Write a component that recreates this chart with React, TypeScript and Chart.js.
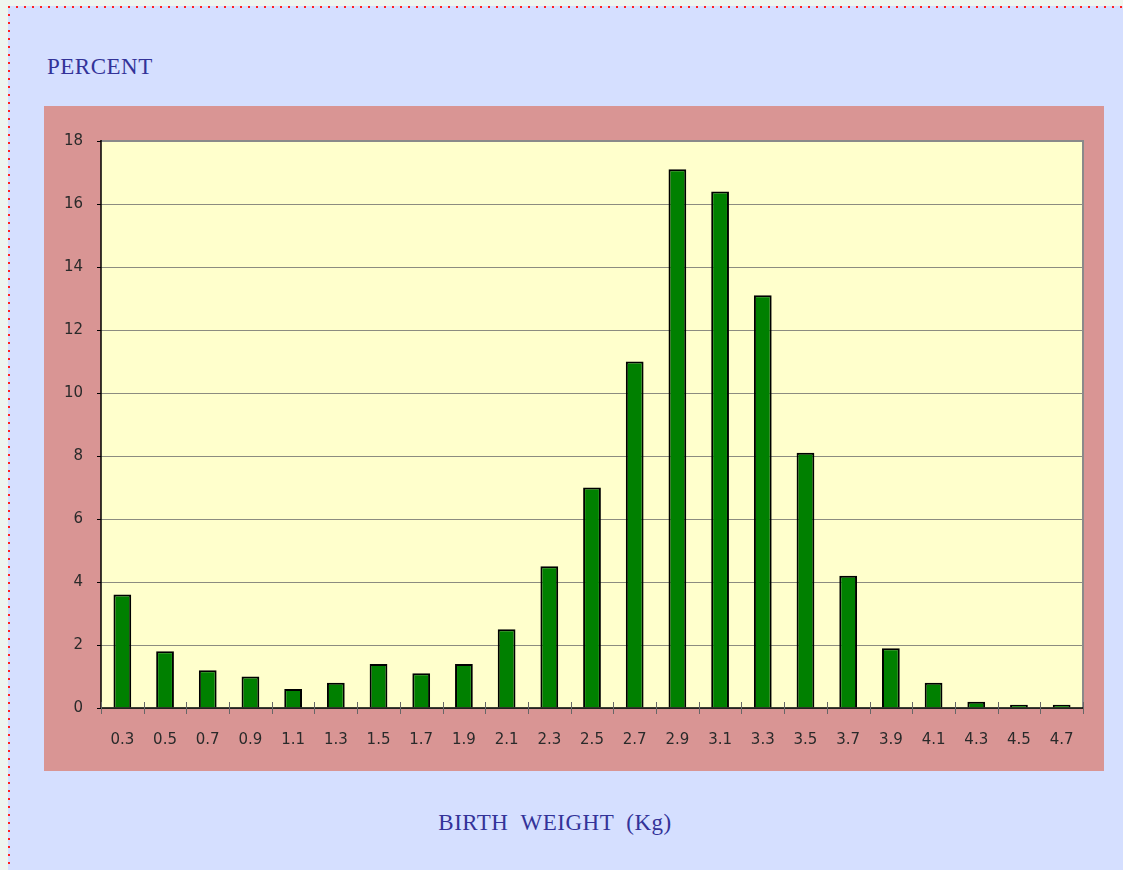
import React, { useEffect, useRef } from "react";
import { Chart, registerables } from "chart.js";

Chart.register(...registerables);

const categories = ["0.3", "0.5", "0.7", "0.9", "1.1", "1.3", "1.5", "1.7", "1.9", "2.1", "2.3", "2.5", "2.7", "2.9", "3.1", "3.3", "3.5", "3.7", "3.9", "4.1", "4.3", "4.5", "4.7"];
const percentValues = [3.6, 1.8, 1.2, 1.0, 0.6, 0.8, 1.4, 1.1, 1.4, 2.5, 4.5, 7.0, 11.0, 17.1, 16.4, 13.1, 8.1, 4.2, 1.9, 0.8, 0.2, 0.1, 0.1];
const yMin = 0;
const yMax = 18;
const yStep = 2;

const plotPlugin = {
  id: "plotDecor",
  beforeDraw(chart: any) {
    const { ctx, chartArea } = chart;
    ctx.save();
    ctx.fillStyle = "#ffffcc";
    ctx.fillRect(chartArea.left, chartArea.top, chartArea.right - chartArea.left, chartArea.bottom - chartArea.top);
    ctx.restore();
  },
  afterDatasetsDraw(chart: any) {
    const { ctx, chartArea } = chart;
    const { left, right, top, bottom } = chartArea;
    const xs = chart.scales.x;
    ctx.save();
    ctx.strokeStyle = "#8a8a8a";
    ctx.lineWidth = 2;
    ctx.beginPath();
    ctx.moveTo(left, top);
    ctx.lineTo(right, top);
    ctx.lineTo(right, bottom);
    ctx.stroke();
    ctx.strokeStyle = "#000";
    ctx.lineWidth = 1.5;
    ctx.beginPath();
    ctx.moveTo(left, top - 1);
    ctx.lineTo(left, bottom);
    ctx.lineTo(right, bottom);
    ctx.stroke();
    const n = categories.length;
    const half = (xs.getPixelForValue(1) - xs.getPixelForValue(0)) / 2;
    ctx.strokeStyle = "#666";
    ctx.lineWidth = 1;
    for (let i = 0; i <= n; i++) {
      const px = Math.round(xs.getPixelForValue(Math.min(i, n - 1)) + (i === n ? half : -half)) + 0.5;
      ctx.beginPath();
      ctx.moveTo(px, bottom - 6);
      ctx.lineTo(px, bottom + 6);
      ctx.stroke();
    }
    ctx.restore();
  },
};

function BarChart() {
  const ref = useRef<HTMLCanvasElement | null>(null);
  useEffect(() => {
    if (!ref.current) return;
    const chart = new Chart(ref.current, {
      type: "bar",
      data: {
        labels: categories,
        datasets: [
          {
            data: percentValues,
            backgroundColor: "#008000",
            borderColor: "#000000",
            borderWidth: 2,
            barPercentage: 0.8,
            categoryPercentage: 0.52,
          },
        ],
      },
      options: {
        responsive: false,
        animation: false,
        layout: { padding: { top: 35, right: 21, left: 0, bottom: 0 } },
        plugins: { legend: { display: false }, tooltip: { enabled: false }, title: { display: false } },
        scales: {
          x: {
            offset: true,
            grid: { display: false },
            border: { display: false },
            ticks: {
              color: "#2a2a2a",
              font: { family: "DejaVu Sans", size: 15 },
              padding: 15,
              maxRotation: 0,
              autoSkip: false,
            },
            afterFit(scale: any) {
              scale.height = 63;
            },
          },
          y: {
            min: yMin,
            max: yMax,
            grid: { color: "#8c8c80", lineWidth: 1, tickLength: 4, tickColor: "#000" },
            border: { display: false },
            ticks: {
              stepSize: yStep,
              color: "#2a2a2a",
              font: { family: "DejaVu Sans", size: 15 },
              padding: 14,
            },
            afterFit(scale: any) {
              scale.width = 57;
            },
          },
        },
      },
      plugins: [plotPlugin],
    });
    return () => chart.destroy();
  }, []);
  return <canvas ref={ref} width={1060} height={665} style={{ position: "absolute", left: 44, top: 106, width: 1060, height: 665, background: "#d99594" }} />;
}

export default function App() {
  const titleStyle: React.CSSProperties = {
    position: "absolute",
    fontFamily: "'Liberation Serif', 'Times New Roman', serif",
    fontSize: 23,
    letterSpacing: 0.5,
    color: "#333399",
    whiteSpace: "pre",
    lineHeight: 1,
  };
  return (
    <div style={{ position: "fixed", left: 0, top: 0, width: 1123, height: 870, background: "#eef5ef", overflow: "hidden" }}>
      <div style={{ position: "absolute", left: 8, top: 6, width: 1123, height: 870, background: "#d5dfff" }} />
      <div
        style={{
          position: "absolute",
          left: 8,
          top: 6,
          width: 1123,
          height: 2,
          backgroundImage: "linear-gradient(to right, #ff2020 2px, transparent 2px)",
          backgroundSize: "8px 2px",
          backgroundRepeat: "repeat-x",
        }}
      />
      <div
        style={{
          position: "absolute",
          left: 8,
          top: 6,
          width: 2,
          height: 870,
          backgroundImage: "linear-gradient(to bottom, #ff2020 2px, transparent 2px)",
          backgroundSize: "2px 8px",
          backgroundRepeat: "repeat-y",
        }}
      />
      <div style={{ ...titleStyle, left: 47, top: 55 }}>PERCENT</div>
      <BarChart />
      <div style={{ ...titleStyle, left: 0, width: 1110, textAlign: "center", top: 811 }}>{"BIRTH  WEIGHT  (Kg)"}</div>
    </div>
  );
}
